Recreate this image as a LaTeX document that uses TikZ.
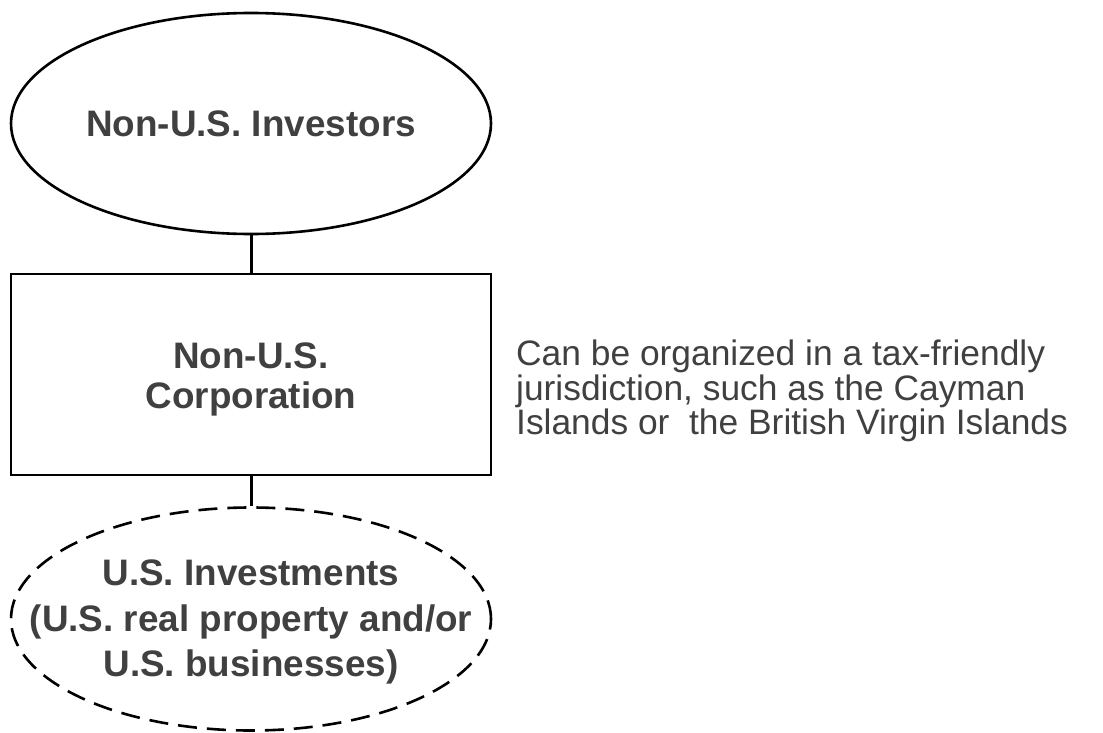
\documentclass[tikz,border=0pt]{standalone}
\usepackage{fontspec}
\setmainfont{Liberation Sans}
\usetikzlibrary{shapes.geometric}
\definecolor{txt}{HTML}{404040}
\begin{document}
\begin{tikzpicture}[x=1bp,y=-1bp,
  shapeline/.style={draw=black,line width=2.6bp},
  label/.style={text=txt,font=\fontsize{37}{#1}\selectfont\bfseries,align=center,inner sep=0pt},
  label/.default=43,
  oval/.style={shapeline,ellipse,inner sep=0pt,minimum width=480bp,minimum height=221bp},
  box/.style={shapeline,rectangle,inner sep=0pt,minimum width=480bp,minimum height=201bp},
  link/.style={draw=black,line width=3bp}]
\useasboundingbox (0,0) rectangle (1103,733);
% outlines
\node[oval] (inv) at (251,123.5) {};
\node[box] (corp) at (251,374.5) {};
\node[oval,dash pattern=on 19bp off 10bp,minimum height=223bp] (usinv) at (251,619) {};
% labels inside the outlines
\node[label] (invtext) at (inv.center) {Non-U.S. Investors};
\node[label=41] (corptext) at ([yshift=-5bp]corp.center) {Non-U.S.\\Corporation};
\node[label=46] (usinvtext) at ([yshift=-3bp]usinv.center)
  {U.S. Investments\\(U.S. real property and/or\\U.S. businesses)};
% side note
\node[text=txt,font=\fontsize{35.5}{34.5}\selectfont,align=left,anchor=west,inner sep=0pt] (note) at (516,391)
  {Can be organized in a tax-friendly\\jurisdiction, such as the Cayman\\Islands or\ \ the British Virgin Islands};
% connectors
\draw[link] (inv.south) -- (corp.north);
\draw[link] (corp.south) -- (usinv.north);
\end{tikzpicture}
\end{document}
